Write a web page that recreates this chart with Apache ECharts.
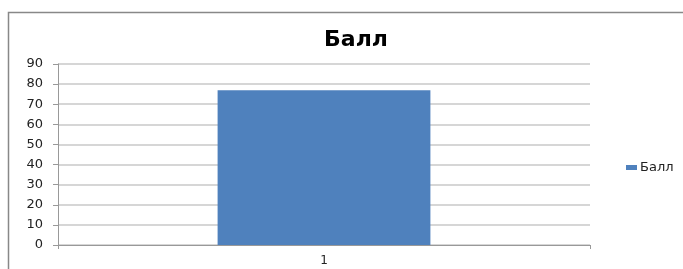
<!DOCTYPE html>
<html>
    <head>
        <meta charset="UTF-8">
        <title>Балл</title>
        <script src="https://cdn.jsdelivr.net/npm/echarts@6/dist/echarts.min.js"></script>
        <style>
            body,html{margin:0;padding:0;width:100%;height:100%;background:#fff;overflow:hidden;}
            #ballChart{width:683px;height:269px;}
        </style>
    </head>
    <body>
        <div id="ballChart"></div>
        <script type="text/javascript">
          var categories = ['1'];
          var seriesName = 'Балл';
          var ballValues = [77];
          var yTicks = [0, 10, 20, 30, 40, 50, 60, 70, 80, 90];

          var ballChart = echarts.init(document.getElementById("ballChart"));
          var ballOption = {
              animation: false,
              // рамка диаграммы: только левый и верхний край видны
              graphic: [{
                  type: 'polyline',
                  shape: {points: [[8.5, 269], [8.5, 12.5], [683, 12.5]]},
                  style: {fill: 'none', stroke: '#888888', lineWidth: 1.5},
                  silent: true
              }],
              title: {
                  text: seriesName,
                  left: 351,
                  top: 24,
                  textAlign: 'center',
                  textStyle: {
                      fontFamily: 'DejaVu Sans',
                      fontSize: 22,
                      fontWeight: 'bold',
                      color: '#000'
                  }
              },
              legend: {
                  data: [seriesName],
                  orient: 'vertical',
                  left: 621,
                  top: 156,
                  itemWidth: 11,
                  itemHeight: 5,
                  itemGap: 4,
                  icon: 'rect',
                  textStyle: {
                      fontFamily: 'DejaVu Sans',
                      fontSize: 13,
                      color: '#222',
                      padding: [0, 0, 0, -2]
                  }
              },
              grid: {
                  left: 58,
                  right: 93,
                  top: 64,
                  bottom: 24
              },
              xAxis: {
                  type: 'category',
                  data: categories,
                  axisLine: {lineStyle: {color: '#999', width: 1}},
                  axisTick: {show: true, alignWithLabel: false, length: 4, lineStyle: {color: '#999'}},
                  axisLabel: {
                      fontFamily: 'DejaVu Sans',
                      fontSize: 12,
                      color: '#222',
                      margin: 10
                  }
              },
              yAxis: {
                  type: 'value',
                  min: yTicks[0],
                  max: yTicks[yTicks.length - 1],
                  interval: 10,
                  axisLine: {show: true, lineStyle: {color: '#999', width: 1}},
                  axisTick: {show: true, length: 5, lineStyle: {color: '#999'}},
                  axisLabel: {
                      fontFamily: 'DejaVu Sans',
                      fontSize: 13,
                      color: '#222',
                      margin: 15
                  },
                  splitLine: {
                      show: true,
                      lineStyle: {color: '#c8c8c8', width: 1.5}
                  }
              },
              series: [
                  {
                      name: seriesName,
                      type: 'bar',
                      barCategoryGap: '60%',
                      data: ballValues,
                      itemStyle: {color: '#4f81bd'}
                  }
              ]
          };
          ballChart.setOption(ballOption);
        </script>
    </body>
</html>
